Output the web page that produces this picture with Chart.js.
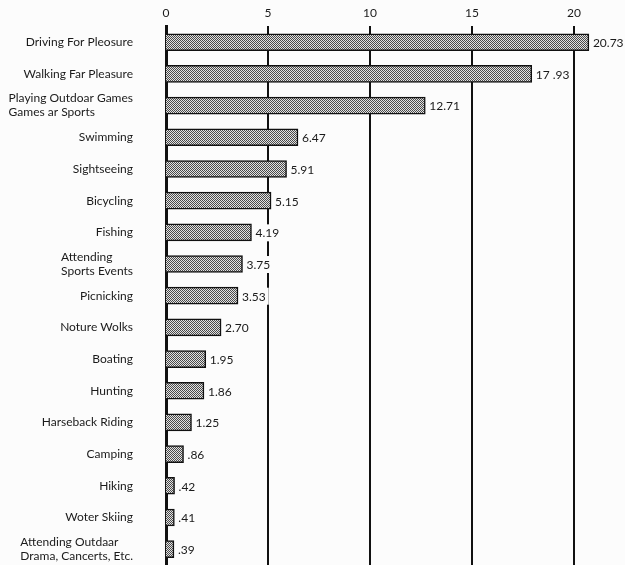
<!DOCTYPE html>
<html>
<head>
<meta charset="utf-8">
<script src="https://cdn.jsdelivr.net/npm/chart.js@4"></script>
<style>
  html, body { margin: 0; padding: 0; background: #fcfcfc; }
  #wrap { width: 625px; height: 565px; }
</style>
</head>
<body>
<div id="wrap"><canvas id="barChart"></canvas></div>
<script>
// activities, top to bottom
const categories = [
  ["Driving For Pleosure"],
  ["Walking Far Pleasure"],
  ["Playing Outdoar Games", "Games ar Sports"],
  ["Swimming"],
  ["Sightseeing"],
  ["Bicycling"],
  ["Fishing"],
  ["Attending", "Sports Events"],
  ["Picnicking"],
  ["Noture Wolks"],
  ["Boating"],
  ["Hunting"],
  ["Harseback Riding"],
  ["Camping"],
  ["Hiking"],
  ["Woter Skiing"],
  ["Attending Outdaar", "Drama, Cancerts, Etc."]
];
const values = [20.73, 17.93, 12.71, 6.47, 5.91, 5.15, 4.19, 3.75, 3.53, 2.70, 1.95, 1.86, 1.25, 0.86, 0.42, 0.41, 0.39];
const valueLabels = ["20.73", "17 .93", "12.71", "6.47", "5.91", "5.15", "4.19", "3.75", "3.53", "2.70", "1.95", "1.86", "1.25", ".86", ".42", ".41", ".39"];
const xTicks = [0, 5, 10, 15, 20];

const FONT = "Lato, 'Liberation Sans', sans-serif";
const BG = "#fcfcfc";

// dot screen fill like the printed original
function screen() {
  const c = document.createElement("canvas");
  c.width = 2; c.height = 2;
  const g = c.getContext("2d");
  g.fillStyle = "#e2e2e2";
  g.fillRect(0, 0, 2, 2);
  g.fillStyle = "#4a4a4a";
  g.fillRect(0, 0, 1, 1);
  g.fillRect(1, 1, 1, 1);
  return g.createPattern(c, "repeat");
}

const labelPlugin = {
  id: "labels",
  afterDatasetsDraw(chart) {
    const ctx = chart.ctx;
    const meta = chart.getDatasetMeta(0);
    const yScale = chart.scales.y;
    ctx.save();
    ctx.font = "12px " + FONT;
    ctx.textBaseline = "middle";
    // value labels at bar ends, clearing the grid line behind them
    meta.data.forEach(function(bar, i) {
      ctx.textAlign = "left";
      const w = ctx.measureText(valueLabels[i]).width;
      ctx.fillStyle = BG;
      ctx.fillRect(bar.x + 2, bar.y - 8, w + 5, 17);
      ctx.fillStyle = "#1a1a1a";
      ctx.fillText(valueLabels[i], bar.x + 4, bar.y + 1);
    });
    // category labels, multi-line ones left aligned as a block
    const right = yScale.right - 33;
    categories.forEach(function(lines, i) {
      const y = yScale.getPixelForValue(i);
      const lh = 14;
      if (lines.length === 1) {
        ctx.textAlign = "right";
        ctx.fillText(lines[0], right, y);
      } else {
        let w = 0;
        lines.forEach(function(l) { w = Math.max(w, ctx.measureText(l).width); });
        ctx.textAlign = "left";
        lines.forEach(function(l, k) {
          ctx.fillText(l, right - w, y + (k - (lines.length - 1) / 2) * lh);
        });
      }
    });
    ctx.restore();
  }
};

const CHART = document.getElementById("barChart");
let barChart = new Chart(CHART, {
  type: "bar",
  data: {
    labels: categories,
    datasets: [{
      data: values,
      backgroundColor: screen(),
      borderColor: "#111",
      borderWidth: 1.5,
      borderSkipped: "left",
      barThickness: 17
    }]
  },
  options: {
    indexAxis: "y",
    responsive: true,
    maintainAspectRatio: false,
    animation: false,
    layout: { padding: { top: 0, right: 0, bottom: 0, left: 0 } },
    plugins: { legend: { display: false }, tooltip: { enabled: false } },
    scales: {
      x: {
        position: "top",
        min: 0,
        max: 22.5,
        afterBuildTicks: function(scale) {
          scale.ticks = xTicks.map(function(v) { return { value: v }; });
        },
        ticks: {
          color: "#1a1a1a",
          font: { family: FONT, size: 12 },
          padding: 6
        },
        grid: {
          color: "#111",
          lineWidth: function(c) { return c.tick && c.tick.value === 0 ? 0 : 2; },
          drawTicks: false
        },
        border: { display: false }
      },
      y: {
        afterFit: function(scale) { scale.width = 166; },
        ticks: { display: false },
        grid: { display: false },
        border: { display: true, color: "#111", width: 3 }
      }
    }
  },
  plugins: [labelPlugin]
});
</script>
</body>
</html>
